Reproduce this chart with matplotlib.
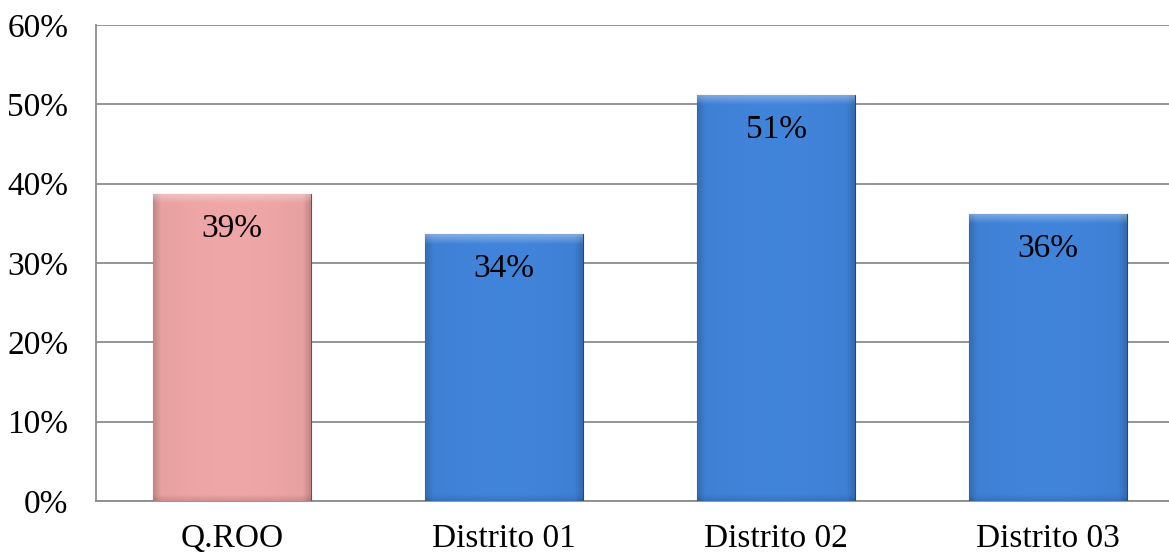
import numpy as np
import matplotlib.pyplot as plt
from matplotlib.colors import to_rgb
from matplotlib.ticker import PercentFormatter

categories = ['Q.ROO', 'Distrito 01', 'Distrito 02', 'Distrito 03']
shares = [0.387, 0.336, 0.512, 0.362]
bar_colors = ['#E6A0A0', '#3E7FD2', '#3E7FD2', '#3E7FD2']
edge_colors = ['#7A4A4A', '#24467A', '#24467A', '#24467A']

plt.rcParams['font.family'] = ['Liberation Serif', 'DejaVu Serif']

W, H = 1169, 556
fig = plt.figure(figsize=(W / 100, H / 100), dpi=100)
# plot area runs past the right edge of the figure
ax = fig.add_axes([96 / W, 1 - 501 / H, 1088 / W, 476 / H])

x = np.arange(len(categories))
width = 0.58
bars = ax.bar(x, shares, width=width, color=bar_colors, edgecolor=edge_colors,
              linewidth=0.8, zorder=3)


def shaded_fill(rect, base, nx=160, ny=300):
    """Soft horizontal gradient with a light bevel along the top edge."""
    x0, y0 = rect.get_x(), rect.get_y()
    w, h = rect.get_width(), rect.get_height()
    u = np.linspace(0, 1, nx)
    v = np.linspace(0, 1, ny)[:, None]
    edge = np.minimum(u, 1 - u)
    shade = 0.84 + 0.16 * np.clip(edge / 0.05, 0, 1)
    shade = shade * (1.0 + 0.04 * np.sin(np.pi * u))
    img = np.ones((ny, nx, 3)) * np.array(to_rgb(base))
    img = img * shade[None, :, None]
    # bevel at top: lighter band about 10 px tall
    top_px = 10 / (476 * h / 0.6)
    band = np.clip((v - (1 - top_px)) / top_px, 0, 1)
    img = img + (1 - img) * (0.35 * band)[:, :, None]
    # slightly darker band along the bottom
    bot_px = 6 / (476 * h / 0.6)
    low = np.clip((bot_px - v) / bot_px, 0, 1)
    img = img * (1 - 0.12 * low)[:, :, None]
    img = np.clip(img, 0, 1)
    im = ax.imshow(img, extent=[x0, x0 + w, y0, y0 + h], origin='lower',
                   aspect='auto', interpolation='bilinear', zorder=3.5)
    im.set_clip_path(rect)


for rect, c in zip(bars, bar_colors):
    shaded_fill(rect, c)

for xi, s in zip(x, shares):
    ax.annotate(f'{s * 100:.0f}%', (xi, s), xytext=(0, -25),
                textcoords='offset points', ha='center', va='center',
                fontsize=24, color='black', zorder=5)

ax.set_xlim(-0.5, 3.5)
ax.set_ylim(0, 0.6)
ax.set_yticks(np.arange(0, 0.61, 0.1))
ax.yaxis.set_major_formatter(PercentFormatter(1.0, decimals=0))
ax.set_xticks(x)
ax.set_xticklabels(categories)
ax.tick_params(axis='both', length=0, labelsize=24, colors='black')
ax.tick_params(axis='y', pad=20)
ax.tick_params(axis='x', pad=16)
ax.grid(axis='y', color='#8C8C8C', linewidth=1.3, zorder=0)
ax.set_axisbelow(True)
for side in ['top', 'right']:
    ax.spines[side].set_visible(False)
for side in ['left', 'bottom']:
    ax.spines[side].set_color('#8C8C8C')
    ax.spines[side].set_linewidth(1.3)

fig.savefig('out.png', dpi=100)
